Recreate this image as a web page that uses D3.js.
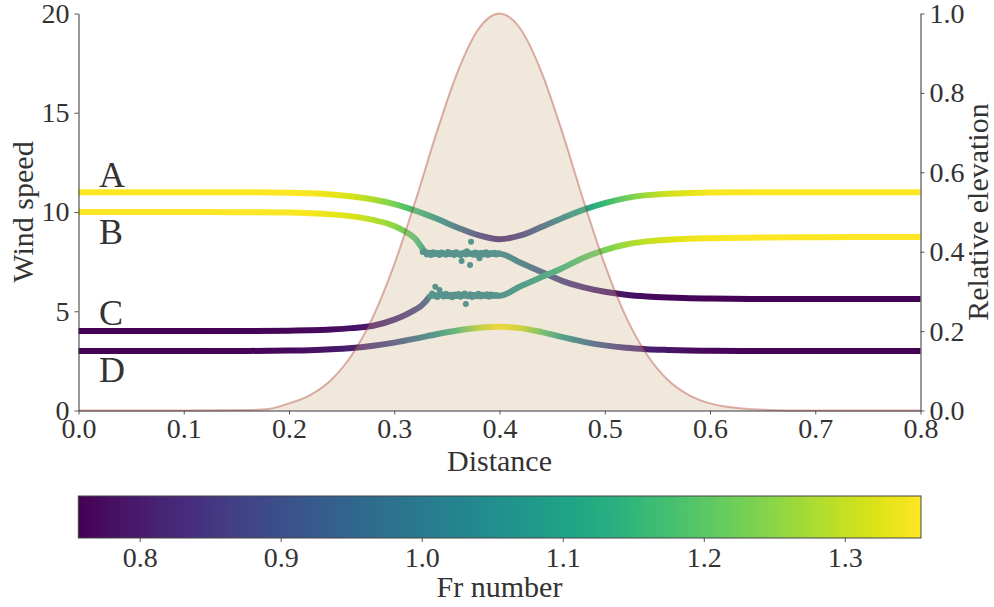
<!DOCTYPE html>
<html><head><meta charset="utf-8">
<script src="https://cdn.jsdelivr.net/npm/d3@7"></script>
<style>
body{margin:0;background:#fff;}
</style></head>
<body><svg id="c" width="994" height="607"></svg>
<script>
// ---------------- data ----------------
const xTicks = [0, 0.1, 0.2, 0.3, 0.4, 0.5, 0.6, 0.7, 0.8];
const speedTicks = [0, 5, 10, 15, 20];
const elevTicks = [0, 0.2, 0.4, 0.6, 0.8, 1.0];
const frTicks = [0.8, 0.9, 1.0, 1.1, 1.2, 1.3];
const frRange = [0.7565, 1.354];
const labels = ["A", "B", "C", "D"];

const hillX = [0,0.1,0.16,0.18,0.2,0.22,0.24,0.26,0.28,0.3,0.32,0.34,0.36,0.38,0.4,0.42,0.44,0.46,0.48,0.5,0.52,0.54,0.56,0.58,0.6,0.62,0.64,0.7,0.8];
const hillElev = [0,0,0.001,0.004,0.018,0.039,0.077,0.141,0.237,0.368,0.527,0.698,0.852,0.961,1.0,0.961,0.852,0.698,0.527,0.368,0.237,0.141,0.077,0.039,0.018,0.008,0.003,0,0];

const A_x = [0,0.1,0.15,0.2,0.22,0.24,0.26,0.28,0.3,0.32,0.34,0.36,0.38,0.4,0.42,0.44,0.46,0.48,0.5,0.52,0.54,0.56,0.58,0.6,0.65,0.7,0.8];
const A_speed = [11,11,11,10.97,10.94,10.88,10.78,10.63,10.4,10.07,9.67,9.22,8.83,8.63,8.82,9.25,9.7,10.12,10.45,10.7,10.85,10.92,10.96,10.98,11,11,11];
const A_fr = [1.352,1.352,1.352,1.35,1.345,1.335,1.315,1.28,1.23,1.16,1.07,0.97,0.87,0.82,0.86,0.94,1.03,1.1,1.16,1.22,1.27,1.31,1.33,1.345,1.352,1.352,1.352];

const B_x = [0,0.1,0.15,0.2,0.22,0.24,0.26,0.28,0.3,0.31,0.32,0.325,0.329,0.333,0.34,0.36,0.38,0.4,0.42,0.44,0.46,0.48,0.5,0.52,0.54,0.56,0.58,0.6,0.65,0.7,0.8];
const B_speed = [10,10,9.99,9.97,9.94,9.88,9.78,9.6,9.3,9.03,8.65,8.3,8.0,7.93,7.92,7.9,7.92,7.9,7.44,6.98,6.52,6.2,5.98,5.83,5.74,5.69,5.66,5.64,5.62,5.62,5.62];
const B_fr = [1.352,1.352,1.352,1.35,1.345,1.335,1.32,1.29,1.25,1.22,1.18,1.15,1.08,1.04,1.03,1.03,1.03,1.03,0.99,0.93,0.87,0.83,0.8,0.785,0.775,0.768,0.764,0.762,0.76,0.76,0.76];

const C_x = [0,0.1,0.15,0.2,0.22,0.24,0.26,0.28,0.3,0.31,0.32,0.325,0.33,0.334,0.338,0.36,0.38,0.4,0.42,0.44,0.46,0.48,0.5,0.52,0.54,0.56,0.58,0.6,0.65,0.7,0.8];
const C_speed = [4,4,4,4.02,4.04,4.08,4.15,4.27,4.58,4.8,5.08,5.25,5.5,5.75,5.8,5.78,5.8,5.78,6.26,6.72,7.18,7.7,8.08,8.36,8.52,8.6,8.65,8.68,8.71,8.73,8.74];
const C_fr = [0.758,0.758,0.76,0.765,0.77,0.775,0.785,0.8,0.83,0.85,0.88,0.9,0.93,0.97,1.03,1.03,1.03,1.03,1.07,1.11,1.15,1.19,1.23,1.27,1.3,1.32,1.335,1.345,1.352,1.352,1.352];

const D_x = [0,0.1,0.15,0.2,0.22,0.24,0.26,0.28,0.3,0.32,0.34,0.36,0.38,0.4,0.42,0.44,0.46,0.48,0.5,0.52,0.54,0.56,0.58,0.6,0.65,0.7,0.8];
const D_speed = [3,3,3,3.02,3.04,3.08,3.15,3.26,3.42,3.62,3.84,4.03,4.17,4.22,4.15,3.95,3.7,3.46,3.28,3.16,3.09,3.05,3.02,3.01,3,3,3];
const D_fr = [0.758,0.758,0.76,0.77,0.78,0.79,0.81,0.84,0.89,0.96,1.06,1.17,1.29,1.35,1.31,1.2,1.08,0.98,0.9,0.845,0.81,0.79,0.775,0.768,0.76,0.758,0.758];

const Bn_x = [0.327,0.329,0.331,0.333,0.335,0.337,0.339,0.341,0.343,0.345,0.347,0.349,0.351,0.353,0.355,0.357,0.359,0.361,0.363,0.364,0.366,0.368,0.369,0.371,0.372,0.373,0.375,0.377,0.379,0.381,0.383,0.385,0.387,0.389,0.391,0.393,0.395,0.397,0.399];
const Bn_speed = [7.98,8.02,7.86,7.95,7.84,7.97,7.88,7.94,7.83,7.96,7.9,7.85,7.98,7.87,7.93,7.84,7.97,7.89,7.82,7.53,7.95,7.86,8.02,7.9,7.33,8.5,7.85,7.96,7.82,7.67,7.94,7.86,7.97,7.84,7.92,7.88,7.95,7.86,7.92];
const Cn_x = [0.334,0.336,0.338,0.339,0.341,0.343,0.345,0.347,0.349,0.351,0.353,0.355,0.357,0.359,0.361,0.363,0.365,0.367,0.368,0.37,0.372,0.374,0.376,0.378,0.38,0.382,0.384,0.386,0.388,0.39,0.392,0.394,0.396,0.398];
const Cn_speed = [5.75,5.9,5.78,6.24,5.72,6.07,5.86,5.74,5.88,5.76,5.83,5.7,5.85,5.78,5.87,5.73,5.84,5.9,5.37,5.76,5.86,5.72,5.82,5.75,5.88,5.74,5.83,5.77,5.86,5.73,5.84,5.78,5.82,5.79];
const noiseFr = 1.03;

// ---------------- drawing ----------------
const FONT = "Liberation Serif";
const svg = d3.select("#c");
const defs = svg.append("defs");
const X0 = 78.5, X1 = 920.5, Y0 = 13.5, Y1 = 410.5;
const x = d3.scaleLinear([0, 0.8], [X0, X1]);
const yL = d3.scaleLinear([0, 20], [Y1, Y0]);
const yR = d3.scaleLinear([0, 1], [Y1, Y0]);
const col = d3.scaleSequential(d3.interpolateViridis).domain(frRange);
const FS = 28, TS = 30;

const curves = [
  {name: "A", xs: A_x, ys: A_speed, fr: A_fr},
  {name: "B", xs: B_x, ys: B_speed, fr: B_fr},
  {name: "C", xs: C_x, ys: C_speed, fr: C_fr},
  {name: "D", xs: D_x, ys: D_speed, fr: D_fr}
];
const line = d3.line().x(d => x(d[0])).y(d => yL(d[1])).curve(d3.curveMonotoneX);

curves.forEach((c, i) => {
  const g = defs.append("linearGradient").attr("id", "g" + i)
    .attr("gradientUnits", "userSpaceOnUse")
    .attr("x1", x(0)).attr("x2", x(0.8)).attr("y1", 0).attr("y2", 0);
  c.xs.forEach((xv, k) => {
    g.append("stop").attr("offset", xv / 0.8).attr("stop-color", col(c.fr[k]));
  });
  svg.append("path").attr("d", line(c.xs.map((xv, k) => [xv, c.ys[k]])))
    .attr("fill", "none").attr("stroke", `url(#g${i})`).attr("stroke-width", 6);
});

[[Bn_x, Bn_speed], [Cn_x, Cn_speed]].forEach(([xs, ys]) => {
  svg.append("g").selectAll("circle").data(xs.map((xv, k) => [xv, ys[k]])).join("circle")
    .attr("cx", d => x(d[0])).attr("cy", d => yL(d[1])).attr("r", 3)
    .attr("fill", col(noiseFr));
});

// hill on top, translucent
const hillPts = hillX.map((xv, k) => [xv, hillElev[k]]);
const area = d3.area().x(d => x(d[0])).y0(yR(0)).y1(d => yR(d[1])).curve(d3.curveMonotoneX);
const hline = d3.line().x(d => x(d[0])).y(d => yR(d[1])).curve(d3.curveMonotoneX);
svg.append("path").attr("d", area(hillPts)).attr("fill", "rgba(210,180,140,0.3)");
svg.append("path").attr("d", hline(hillPts)).attr("fill", "none")
  .attr("stroke", "rgba(170,50,40,0.38)").attr("stroke-width", 2);

// axes
function styleAxis(g) {
  g.selectAll(".domain").attr("stroke", "#333").attr("stroke-width", 1);
  g.selectAll(".tick line").attr("stroke", "#555");
  g.selectAll("text").attr("fill", "#333").attr("font-size", FS);
}
svg.append("g").attr("transform", `translate(${X0},0)`)
  .call(d3.axisLeft(yL).tickValues(speedTicks).tickSize(4).tickSizeOuter(0).tickPadding(5).tickFormat(d3.format("d")))
  .call(styleAxis);
svg.append("g").attr("transform", `translate(${X1},0)`)
  .call(d3.axisRight(yR).tickValues(elevTicks).tickSize(4).tickSizeOuter(0).tickPadding(5).tickFormat(d3.format(".1f")))
  .call(styleAxis);
svg.append("g").attr("transform", `translate(0,${Y1})`)
  .call(d3.axisBottom(x).tickValues(xTicks).tickSize(4).tickSizeOuter(0).tickPadding(4).tickFormat(d3.format(".1f")))
  .call(styleAxis);

// axis titles
const tg = svg.append("g").attr("fill", "#333");
tg.append("text").attr("transform", `translate(33,${(Y0 + Y1) / 2}) rotate(-90)`)
  .attr("text-anchor", "middle").attr("font-size", TS).text("Wind speed");
tg.append("text").attr("transform", `translate(988,${(Y0 + Y1) / 2}) rotate(-90)`)
  .attr("text-anchor", "middle").attr("font-size", TS).text("Relative elevation");
tg.append("text").attr("x", (X0 + X1) / 2).attr("y", 471)
  .attr("text-anchor", "middle").attr("font-size", TS).text("Distance");

// curve labels
const labelY = [187, 244, 325, 382];
labels.forEach((t, i) => {
  tg.append("text").attr("x", 99).attr("y", labelY[i]).attr("font-size", 36).text(t);
});

// colorbar
const CB0 = 496, CB1 = 538;
const cx = d3.scaleLinear(frRange, [78.3, 921]);
const cg = defs.append("linearGradient").attr("id", "cbar");
d3.range(0, 1.0001, 0.02).forEach(t => {
  cg.append("stop").attr("offset", t).attr("stop-color", d3.interpolateViridis(t));
});
svg.append("rect").attr("x", cx(frRange[0])).attr("y", CB0)
  .attr("width", cx(frRange[1]) - cx(frRange[0])).attr("height", CB1 - CB0)
  .attr("fill", "url(#cbar)").attr("stroke", "#444").attr("stroke-width", 1);
svg.append("g").attr("transform", `translate(0,${CB1})`)
  .call(d3.axisBottom(cx).tickValues(frTicks).tickSize(4).tickSizeOuter(0).tickPadding(5).tickFormat(d3.format(".1f")))
  .call(styleAxis)
  .call(g => g.select(".domain").remove());
tg.append("text").attr("x", (X0 + X1) / 2).attr("y", 597)
  .attr("text-anchor", "middle").attr("font-size", TS).text("Fr number");

// apply the serif family directly to every text element
svg.selectAll("text").attr("font-family", FONT);
</script></body></html>
